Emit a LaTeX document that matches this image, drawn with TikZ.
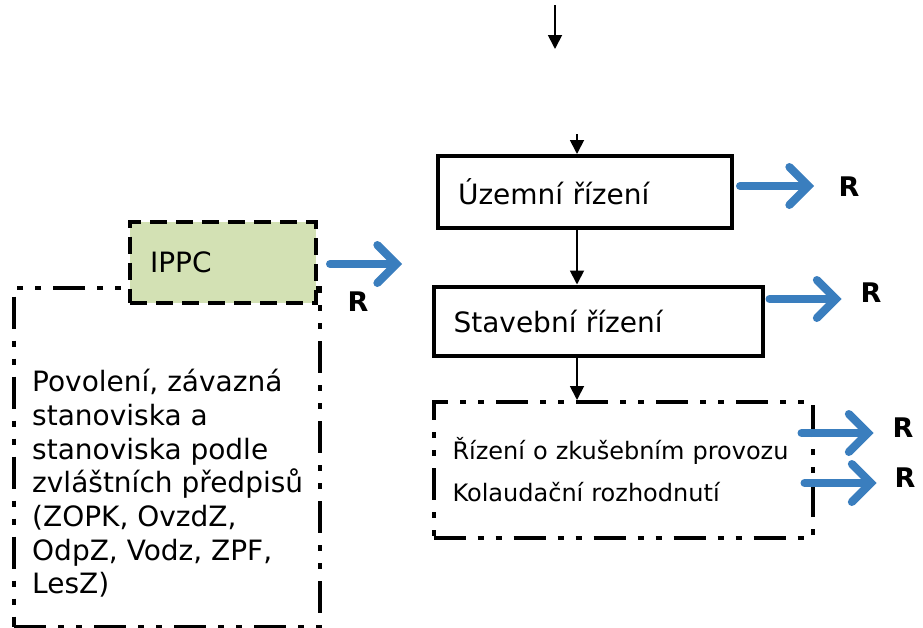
\documentclass[tikz,border=0pt]{standalone}
\usepackage{fontspec}
\setmainfont{DejaVu Sans}
\usetikzlibrary{arrows.meta}
\definecolor{rblue}{RGB}{58,126,190}
\definecolor{ippcgreen}{RGB}{211,225,180}

\begin{document}
\begin{tikzpicture}[x=1pt,y=-1pt,
    box/.style={draw,line width=4pt,inner xsep=20pt,inner ysep=0pt,align=left,
      font=\fontsize{28}{34}\selectfont},
    dashdotbox/.style={draw,line width=4pt,
      dash pattern=on 32pt off 12pt on 6pt off 12pt on 6pt off 12pt},
    ippcbox/.style={fill=ippcgreen,dash pattern=on 17pt off 9pt},
    flow/.style={-{Triangle[length=14pt,width=14pt]},line width=1.8pt},
    rarrow/.style={-{Straight Barb[length=19pt,width=38pt,line cap=round]},
      rblue,line width=8pt,line cap=round},
    rlabel/.style={font=\fontsize{27}{27}\bfseries\selectfont}]

  \useasboundingbox (0,0) rectangle (923,627);

  % right column
  \node[box,text width=254pt,minimum height=72pt] (uzemni) at (585,192) {Územní řízení};
  \node[box,text width=289pt,minimum height=69pt] (stavebni) at (598,321) {Stavební řízení};
  \node[box,dashdotbox,inner xsep=19pt,text width=341pt,minimum height=136pt,
    font=\fontsize{24}{42}\selectfont] (zkusebni) at (623,470)
    {Řízení o zkušebním provozu\\Kolaudační rozhodnutí};

  % left column
  \node[dashdotbox,minimum width=306pt,minimum height=339pt] (predpisy) at (167,457) {};
  \node[anchor=north west,align=left,inner sep=0pt,
    font=\fontsize{28}{33.7}\selectfont] (predpisytext) at (32,369)
    {Povolení, závazná\\stanoviska a\\stanoviska podle\\zvláštních předpisů\\(ZOPK, OvzdZ,\\OdpZ, Vodz, ZPF,\\LesZ)};
  \node[box,ippcbox,text width=146pt,minimum height=81pt] (ippc) at (223,262) {IPPC};

  % labels
  \node[rlabel] (r1) at (849,187) {R};
  \node[rlabel] (r2) at (871,293) {R};
  \node[rlabel] (r3) at (358,302) {R};
  \node[rlabel] (r4) at (903,428) {R};
  \node[rlabel] (r5) at (905,478) {R};

  % flow
  \coordinate (start) at (555,5);
  \coordinate (in) at (577,134);
  \draw[flow] (start) -- ++(0,44);
  \draw[flow] (in) -- (in |- uzemni.north);
  \draw[flow] (uzemni.south -| in) -- (stavebni.north -| in);
  \draw[flow] (stavebni.south -| in) -- (zkusebni.north -| in);

  % blue arrows
  \draw[rarrow] ([shift={(6,-6)}]uzemni.east) -- ++(74,0);
  \draw[rarrow] ([shift={(5,-22)}]stavebni.east) -- ++(72,0);
  \draw[rarrow] ([shift={(12,2)}]ippc.east) -- ++(72,0);
  \draw[rarrow] ([shift={(-13,-37)}]zkusebni.east) -- ++(72,0);
  \draw[rarrow] ([shift={(-10,13)}]zkusebni.east) -- ++(72,0);
\end{tikzpicture}
\end{document}
